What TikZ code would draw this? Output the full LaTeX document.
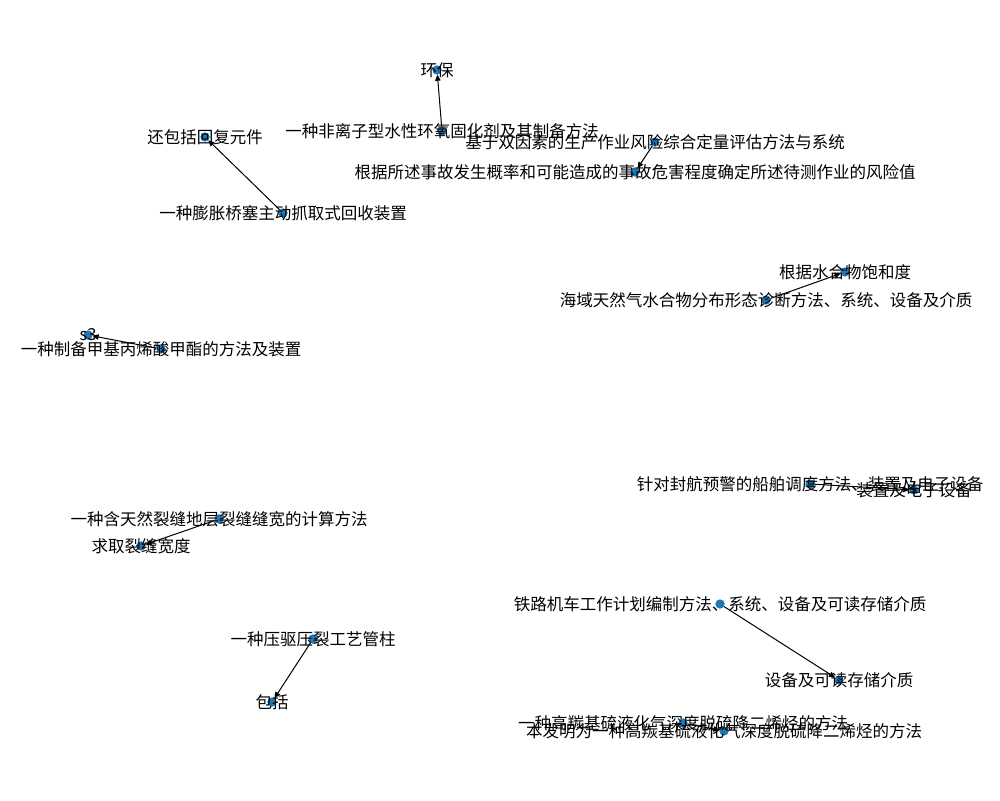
\documentclass[tikz,border=0pt]{standalone}
\usepackage{fontspec}
\setmainfont{Noto Sans CJK SC}
\usetikzlibrary{arrows.meta}
\definecolor{nodeblue}{HTML}{1F77B4}
\tikzset{
  dot/.style={circle,fill=nodeblue,draw=none,inner sep=0pt,minimum size=9pt},
  lbl/.style={inner sep=0pt,font=\fontsize{16.5}{18}\selectfont,text=black},
  arr/.style={draw=black,line width=1pt,-{Triangle[length=6pt,width=5.5pt]}}
}
\begin{document}
\begin{tikzpicture}[x=1pt,y=-1pt]
\fill[white] (0,0) rectangle (1000,800);
\useasboundingbox (0,0) rectangle (1000,800);
% positions
\coordinate (p1) at (437,70);
\coordinate (p2) at (442,131);
\coordinate (p3) at (205,137);
\coordinate (p4) at (283,213);
\coordinate (p5) at (655,142);
\coordinate (p6) at (635,172);
\coordinate (p7) at (845,272);
\coordinate (p8) at (766,300);
\coordinate (p9) at (88,335);
\coordinate (p10) at (161,349);
\coordinate (p11) at (810,484);
\coordinate (p12) at (914,490);
\coordinate (p13) at (219,519);
\coordinate (p14) at (141,546);
\coordinate (p15) at (720,604);
\coordinate (p16) at (839,680);
\coordinate (p17) at (313,639);
\coordinate (p18) at (272,702);
\coordinate (p19) at (683,723);
\coordinate (p20) at (724,731);
% dots
\foreach \i in {1,...,20} {\node[dot] (n\i) at (p\i) {};}
% edges
\draw[arr] (n2) -- (n1);
\draw[arr] (n4) -- (n3);
\draw[arr] (n5) -- (n6);
\draw[arr] (n8) -- (n7);
\draw[arr] (n10) -- (n9);
\draw[arr] (n11) -- (n12);
\draw[arr] (n13) -- (n14);
\draw[arr] (n15) -- (n16);
\draw[arr] (n17) -- (n18);
\draw[arr] (n19) -- (n20);
% redraw dots over edges
\foreach \i in {1,...,20} {\fill[nodeblue] (p\i) circle (4.5pt);}
% labels
\node[lbl] (t1) at (p1) {环保};
\node[lbl] (t2) at (p2) {一种非离子型水性环氧固化剂及其制备方法};
\node[lbl] (t3) at (p3) {还包括回复元件};
\node[lbl] (t4) at (p4) {一种膨胀桥塞主动抓取式回收装置};
\node[lbl] (t5) at (p5) {基于双因素的生产作业风险综合定量评估方法与系统};
\node[lbl] (t6) at (p6) {根据所述事故发生概率和可能造成的事故危害程度确定所述待测作业的风险值};
\node[lbl] (t7) at (p7) {根据水合物饱和度};
\node[lbl] (t8) at (p8) {海域天然气水合物分布形态诊断方法、系统、设备及介质};
\node[lbl] (t9) at (p9) {s3};
\node[lbl] (t10) at (p10) {一种制备甲基丙烯酸甲酯的方法及装置};
\node[lbl] (t11) at (p11) {针对封航预警的船舶调度方法、装置及电子设备};
\node[lbl] (t12) at (p12) {装置及电子设备};
\node[lbl] (t13) at (p13) {一种含天然裂缝地层裂缝缝宽的计算方法};
\node[lbl] (t14) at (p14) {求取裂缝宽度};
\node[lbl] (t15) at (p15) {铁路机车工作计划编制方法、系统、设备及可读存储介质};
\node[lbl] (t16) at (p16) {设备及可读存储介质};
\node[lbl] (t17) at (p17) {一种压驱压裂工艺管柱};
\node[lbl] (t18) at (p18) {包括};
\node[lbl] (t19) at (p19) {一种高羰基硫液化气深度脱硫降二烯烃的方法};
\node[lbl] (t20) at (p20) {本发明为一种高羰基硫液化气深度脱硫降二烯烃的方法};
\end{tikzpicture}
\end{document}
